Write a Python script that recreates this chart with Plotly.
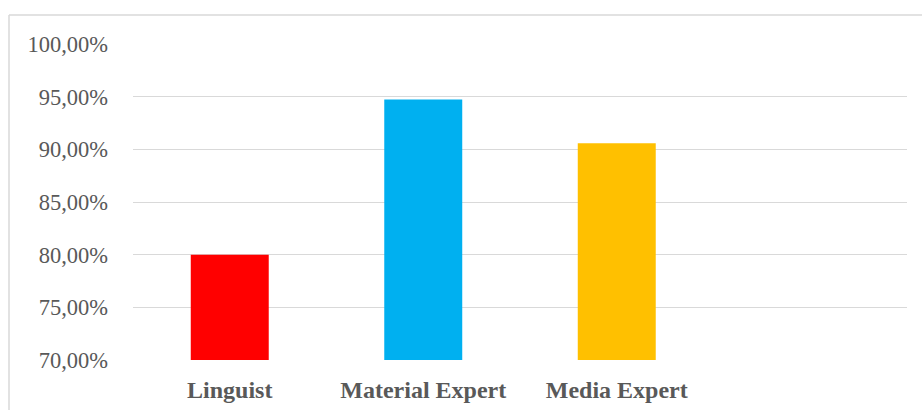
import plotly.graph_objects as go

categories = ["Linguist", "Material Expert", "Media Expert", " "]
values = [80.0, 94.74, 90.57, None]
colors = ["#FF0000", "#00B0F0", "#FFC000", "#FFFFFF"]
y_ticks = [70, 75, 80, 85, 90, 95, 100]
y_tick_labels = [f"{v:.2f}".replace(".", ",") + "%" for v in y_ticks]

W, H = 922, 410
L, R, T, B = 133, 15, 44, 50
pw, ph = W - L - R, H - T - B

fig = go.Figure()
fig.add_trace(go.Bar(
    x=categories, y=values, marker=dict(color=colors, line=dict(width=0)),
    width=0.403, showlegend=False, hoverinfo="skip",
))

fig.update_layout(
    width=W, height=H,
    margin=dict(l=L, r=R, t=T, b=B, pad=0, autoexpand=False),
    paper_bgcolor="white", plot_bgcolor="white",
    font=dict(family="Liberation Serif", color="#595959"),
    xaxis=dict(
        type="category", categoryorder="array", categoryarray=categories,
        range=[-0.5, 3.5], showgrid=False, zeroline=False, automargin=False,
        showline=False, ticks="", ticklabelstandoff=13,
        tickfont=dict(family="Liberation Serif", size=24, color="#595959", weight="bold"),
    ),
    yaxis=dict(
        range=[70, 100], tickvals=y_ticks, ticktext=y_tick_labels, automargin=False,
        showgrid=True, gridcolor="#D9D9D9", gridwidth=1.25,
        zeroline=False, showline=False, ticks="", ticklabelstandoff=24,
        tickfont=dict(family="Liberation Serif", size=22.5, color="#595959"),
    ),
)

bx = (9 - L) / pw
by = (H - B - 15) / ph
fig.add_shape(type="line", xref="paper", yref="paper", x0=bx, x1=1.2, y0=by, y1=by,
              line=dict(color="#D9D9D9", width=1.5))
fig.add_shape(type="line", xref="paper", yref="paper", x0=bx, x1=bx, y0=by, y1=-0.5,
              line=dict(color="#D9D9D9", width=1.5))

fig.write_html("out.html")
